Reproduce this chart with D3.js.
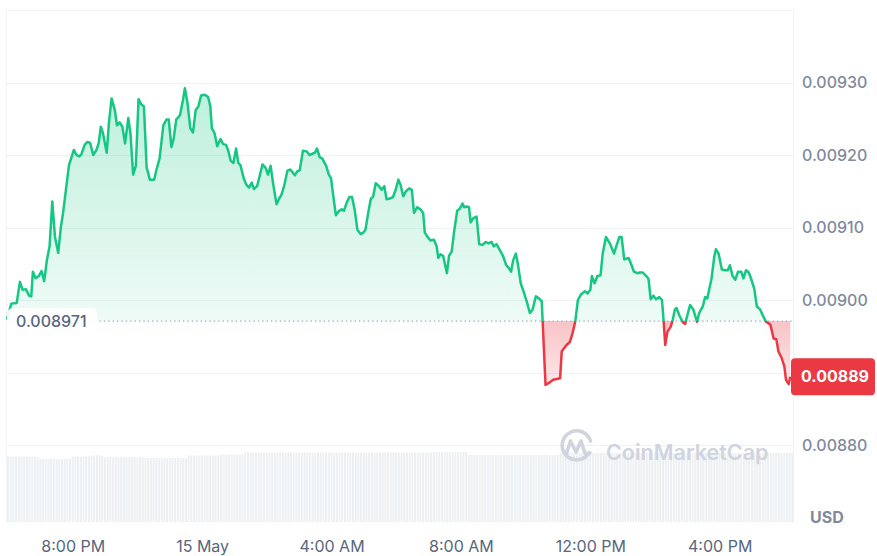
<!DOCTYPE html>
<html><head><meta charset="utf-8">
<script src="https://cdn.jsdelivr.net/npm/d3@7"></script>
<style>
body{margin:0;background:#fff;}
svg{display:block;font-family:Inter,"Noto Sans",sans-serif;}
</style>
</head><body>
<svg id="chart" width="877" height="556"></svg>
<script>
// ---- data (minutes after 14 May 18:00, price in USD) ----
const priceSeries = [
[-2,0.008973],[6,0.008995],[16,0.008996],[22,0.009025],[27,0.009014],[33,0.009015],[39,0.009006],[43,0.009005],[46,0.009039],[51,0.009030],
[57,0.009033],[62,0.009040],[67,0.009026],[72,0.009055],[77,0.009074],[82,0.009136],[87,0.009087],[93,0.009065],[98,0.009101],[102,0.009120],
[108,0.009156],[113,0.009186],[122,0.009207],[127,0.009200],[132,0.009198],[136,0.009201],[142,0.009214],[147,0.009218],[152,0.009217],[158,0.009200],
[164,0.009207],[168,0.009216],[172,0.009239],[176,0.009230],[183,0.009203],[187,0.009244],[192,0.009278],[198,0.009262],[202,0.009241],[207,0.009245],
[212,0.009239],[217,0.009216],[223,0.009251],[227,0.009230],[232,0.009173],[237,0.009185],[242,0.009277],[247,0.009270],[252,0.009267],[257,0.009183],
[263,0.009166],[271,0.009166],[275,0.009179],[281,0.009195],[288,0.009241],[294,0.009249],[298,0.009249],[303,0.009211],[307,0.009222],[312,0.009249],
[319,0.009255],[324,0.009274],[328,0.009292],[333,0.009271],[338,0.009237],[343,0.009231],[348,0.009262],[353,0.009267],[358,0.009282],[365,0.009283],
[371,0.009280],[375,0.009268],[378,0.009237],[383,0.009230],[388,0.009212],[394,0.009222],[399,0.009215],[404,0.009214],[408,0.009207],[413,0.009192],
[418,0.009189],[423,0.009209],[427,0.009189],[431,0.009186],[437,0.009168],[442,0.009159],[447,0.009155],[452,0.009162],[456,0.009153],[462,0.009157],
[467,0.009172],[472,0.009187],[478,0.009182],[482,0.009173],[487,0.009185],[492,0.009159],[498,0.009132],[503,0.009140],[507,0.009145],[512,0.009157],
[518,0.009178],[523,0.009180],[527,0.009177],[532,0.009172],[536,0.009177],[541,0.009179],[547,0.009206],[554,0.009205],[559,0.009200],[565,0.009202],
[569,0.009203],[573,0.009209],[578,0.009197],[583,0.009195],[590,0.009185],[595,0.009173],[599,0.009168],[603,0.009145],[608,0.009117],[614,0.009123],
[619,0.009125],[623,0.009123],[628,0.009134],[633,0.009142],[638,0.009142],[643,0.009124],[648,0.009097],[654,0.009091],[659,0.009093],[663,0.009097],
[668,0.009120],[673,0.009140],[677,0.009142],[682,0.009161],[688,0.009157],[693,0.009152],[698,0.009157],[702,0.009139],[708,0.009140],[714,0.009142],
[719,0.009152],[724,0.009166],[728,0.009159],[733,0.009143],[738,0.009150],[744,0.009154],[749,0.009152],[753,0.009120],[759,0.009128],[765,0.009125],
[770,0.009120],[773,0.009093],[779,0.009086],[784,0.009082],[790,0.009083],[795,0.009074],[798,0.009058],[802,0.009063],[807,0.009061],[814,0.009037],
[818,0.009061],[823,0.009067],[827,0.009092],[833,0.009123],[838,0.009126],[843,0.009133],[846,0.009128],[851,0.009129],[855,0.009128],[858,0.009107],
[863,0.009113],[869,0.009115],[874,0.009077],[880,0.009076],[886,0.009080],[891,0.009078],[897,0.009080],[901,0.009074],[906,0.009077],[912,0.009069],
[918,0.009061],[924,0.009048],[929,0.009044],[933,0.009039],[937,0.009055],[942,0.009064],[946,0.009048],[951,0.009023],[957,0.009010],[962,0.008998],
[968,0.008982],[973,0.008987],[979,0.009005],[985,0.009002],[990,0.008998],[994,0.008931],[997,0.008883],[1004,0.008886],[1011,0.008890],[1018,0.008891],
[1024,0.008892],[1027,0.008929],[1031,0.008933],[1036,0.008938],[1042,0.008942],[1047,0.008954],[1052,0.008970],[1057,0.009000],[1063,0.009008],[1070,0.009012],
[1075,0.009009],[1080,0.009014],[1083,0.009033],[1088,0.009023],[1093,0.009033],[1099,0.009034],[1103,0.009064],[1109,0.009087],[1117,0.009077],[1124,0.009064],
[1129,0.009076],[1134,0.009087],[1138,0.009087],[1143,0.009056],[1151,0.009058],[1155,0.009051],[1161,0.009039],[1167,0.009037],[1172,0.009038],[1177,0.009038],
[1184,0.009033],[1188,0.009029],[1192,0.009001],[1197,0.009006],[1202,0.009001],[1208,0.009004],[1213,0.009000],[1216,0.008971],[1219,0.008938],[1223,0.008956],
[1229,0.008963],[1233,0.008973],[1237,0.008987],[1240,0.008989],[1245,0.008979],[1252,0.008969],[1256,0.008967],[1260,0.008979],[1265,0.008993],[1271,0.008987],
[1278,0.008970],[1282,0.008982],[1289,0.008992],[1293,0.009004],[1297,0.009002],[1305,0.009030],[1310,0.009060],[1313,0.009070],[1318,0.009064],[1324,0.009042],
[1330,0.009041],[1335,0.009041],[1339,0.009048],[1344,0.009033],[1349,0.009028],[1354,0.009039],[1360,0.009039],[1364,0.009030],[1369,0.009041],[1374,0.009038],
[1378,0.009030],[1384,0.009016],[1389,0.008991],[1395,0.008987],[1401,0.008977],[1406,0.008970],[1414,0.008966],[1420,0.008947],[1425,0.008946],[1429,0.008929],
[1435,0.008920],[1440,0.008908],[1443,0.008890],[1448,0.008884],[1451,0.008894]
];
// 5-minute volume bars, starting at minute -2 (relative units)
const volumes = [
655,656,654,655,657,655,654,656,655,653,655,652,
632,630,631,629,630,632,630,628,631,630,629,631,
654,656,655,653,656,655,657,
664,666,668,665,664,
650,651,649,650,652,648,650,651,649,650,652,650,649,651,650,
641,640,638,640,642,639,640,641,638,640,641,639,640,642,640,639,
664,666,665,663,666,667,664,665,666,664,665,666,
675,676,674,675,677,675,674,676,675,
695,697,694,696,698,695,693,696,697,695,694,696,698,697,695,694,696,695,697,696,
695,693,696,698,696,695,694,697,695,696,698,696,695,694,696,697,695,696,694,695,
697,696,695,698,696,694,695,697,696,695,694,696,697,695,696,698,695,694,696,697,
695,696,694,697,695,696,698,695,694,696,
700,702,701,699,700,703,701,700,702,699,701,700,702,
670,672,669,671,670,668,671,670,672,669,670,671,668,670,672,671,669,670,671,670,
668,672,670,669,671,670,672,669,670,671,670,668,671,670,
690,692,689,691,690,688,691,690,692,689,690,691,688,690,692,691,689,690,691,690,
688,692,690,689,691,690,692,689,690,691,690,688,691,690,692,689,690,691,688,690,
692,691,689,690,691,690,688,692,690,689,691,690,692,689,690,691,690,688,691,690,
692,689,690,691,688,690,692,691,689,690,691,690,688,692,690,689,691,690,692,689,
690,691,690,688,691,690,692
];
// 0.00890 sits under the last-price tag in the reference, so it is not labelled
const yTickValues = [0.0088, 0.0090, 0.0091, 0.0092, 0.0093];
const gridValues = [0.0088, 0.0089, 0.0090, 0.0091, 0.0092, 0.0093, 0.0094];
const openPrice = 0.008971;
const domainMinutes = [-2, 1456];
const startTime = new Date(2024, 4, 14, 18, 0, 0);

// ---- helpers ----
const t = m => new Date(startTime.getTime() + m * 60000);
const GREEN = "#16c784", RED = "#ea3943";
const svg = d3.select("#chart");
const L = 7, R = 793;

const x = d3.scaleTime().domain(domainMinutes.map(t)).range([L, R]);
const y = d3.scaleLinear().domain([0.0088, 0.0094]).range([445, 10]);
const yVol = d3.scaleLinear().domain([0, 700]).range([522, 452]);
const baseY = y(openPrice);

const defs = svg.append("defs");
const gG = defs.append("linearGradient").attr("id","gGreen").attr("gradientUnits","userSpaceOnUse")
  .attr("x1",0).attr("x2",0).attr("y1",y(d3.max(priceSeries,d=>d[1]))).attr("y2",baseY);
gG.append("stop").attr("offset",0).attr("stop-color",GREEN).attr("stop-opacity",0.28);
gG.append("stop").attr("offset",1).attr("stop-color",GREEN).attr("stop-opacity",0.07);
const gR = defs.append("linearGradient").attr("id","gRed").attr("gradientUnits","userSpaceOnUse")
  .attr("x1",0).attr("x2",0).attr("y1",baseY).attr("y2",y(d3.min(priceSeries,d=>d[1])));
gR.append("stop").attr("offset",0).attr("stop-color",RED).attr("stop-opacity",0.3);
gR.append("stop").attr("offset",1).attr("stop-color",RED).attr("stop-opacity",0.12);
defs.append("clipPath").attr("id","above").append("rect").attr("x",0).attr("y",0).attr("width",877).attr("height",baseY);
defs.append("clipPath").attr("id","below").append("rect").attr("x",0).attr("y",baseY).attr("width",877).attr("height",556-baseY);
defs.append("clipPath").attr("id","plot").append("rect").attr("x",L).attr("y",0).attr("width",R-L).attr("height",556);

// gridlines
svg.append("g").selectAll("line").data(gridValues).join("line")
  .attr("x1",L).attr("x2",R).attr("y1",d=>Math.round(y(d))+0.5).attr("y2",d=>Math.round(y(d))+0.5)
  .attr("stroke","#eff2f5").attr("stroke-width",1);
// frame verticals
svg.append("line").attr("x1",L-0.5).attr("x2",L-0.5).attr("y1",10).attr("y2",523).attr("stroke","#f1f3f6");
svg.append("line").attr("x1",R+0.5).attr("x2",R+0.5).attr("y1",10).attr("y2",523).attr("stroke","#eff2f5");

// volume bars
const barW = x(t(5)) - x(t(0));
svg.append("g").attr("clip-path","url(#plot)").selectAll("rect").data(volumes).join("rect")
  .attr("x",(d,i)=>x(t(domainMinutes[0] + 5*i)))
  .attr("y",d=>yVol(d))
  .attr("width",Math.max(0.5,barW-0.7))
  .attr("height",d=>yVol(0)-yVol(d))
  .attr("fill","#edf0f3");

// watermark
const wm = svg.append("g").attr("fill","none").attr("stroke","#d0d4de").attr("stroke-width",3.6).attr("stroke-linecap","round").attr("stroke-linejoin","round");
wm.append("path").attr("d","M589,453 A14.5,14.5 0 1 1 590.5,441");
wm.append("path").attr("d","M566,455 L570.5,441 L576,452 L581,441 L584.5,452 Q586,456 590,453");
svg.append("text").attr("x",606).attr("y",460).attr("font-size",21.5).attr("font-weight",600)
  .attr("fill","#d0d4de").text("CoinMarketCap");

// areas
const area = d3.area().x(d=>x(t(d[0]))).y0(baseY).y1(d=>y(d[1]));
svg.append("path").datum(priceSeries).attr("d",area).attr("fill","url(#gGreen)").attr("clip-path","url(#above)");
svg.append("path").datum(priceSeries).attr("d",area).attr("fill","url(#gRed)").attr("clip-path","url(#below)");

// dotted open line
svg.append("line").attr("x1",L).attr("x2",R).attr("y1",baseY).attr("y2",baseY)
  .attr("stroke","#a1a7bb").attr("stroke-width",1.3).attr("stroke-dasharray","1.3,3.1");

// lines
const line = d3.line().x(d=>x(t(d[0]))).y(d=>y(d[1]));
svg.append("path").datum(priceSeries).attr("d",line).attr("fill","none").attr("stroke",GREEN)
  .attr("stroke-width",2.5).attr("stroke-linejoin","round").attr("clip-path","url(#above)");
svg.append("path").datum(priceSeries).attr("d",line).attr("fill","none").attr("stroke",RED)
  .attr("stroke-width",2.5).attr("stroke-linejoin","round").attr("clip-path","url(#below)");

// open price label
svg.append("rect").attr("x",L).attr("y",baseY-13).attr("width",90).attr("height",27).attr("rx",6)
  .attr("fill","#ffffff").attr("fill-opacity",0.92);
svg.append("text").attr("x",16).attr("y",baseY+6).attr("font-size",16).attr("font-weight",500)
  .attr("fill","#58667e").text(d3.format(".6f")(openPrice));

// y axis
const yAxis = svg.append("g").attr("transform",`translate(${R},0)`)
  .call(d3.axisRight(y).tickValues(yTickValues).tickSize(0).tickPadding(9).tickFormat(d3.format(".5f")));
yAxis.select(".domain").remove();
yAxis.selectAll("text").attr("font-size",16).attr("font-weight",500).attr("fill","#808a9d").attr("font-family","Inter");

// x axis
const xTicks = d3.timeHour.every(4).range(t(0), t(1456));
const xFmt = d => d.getHours()===0 ? d3.timeFormat("%-d %b")(d) : d3.timeFormat("%-I:%M %p")(d);
const xAxis = svg.append("g").attr("transform","translate(0,523)")
  .call(d3.axisBottom(x).tickValues(xTicks.filter(d=>d.getHours()!==18)).tickSize(0).tickPadding(17.5).tickFormat(xFmt));
xAxis.select(".domain").remove();
xAxis.selectAll("text").attr("font-size",16).attr("font-weight",400).attr("fill","#58667e").attr("font-family","Inter");

// USD label
svg.append("text").attr("x",810).attr("y",523).attr("font-size",16).attr("font-weight",700)
  .attr("fill","#808a9d").text("USD");

// last price tag
const last = priceSeries[priceSeries.length-1][1];
const ly = y(last);
svg.append("rect").attr("x",791).attr("y",ly-18.5).attr("width",84).attr("height",37).attr("rx",4).attr("fill",RED);
svg.append("text").attr("x",801).attr("y",ly).attr("dy","0.35em").attr("font-size",16).attr("font-weight",700)
  .attr("fill","#fff").text(d3.format(".5f")(last));
</script>
</body></html>
